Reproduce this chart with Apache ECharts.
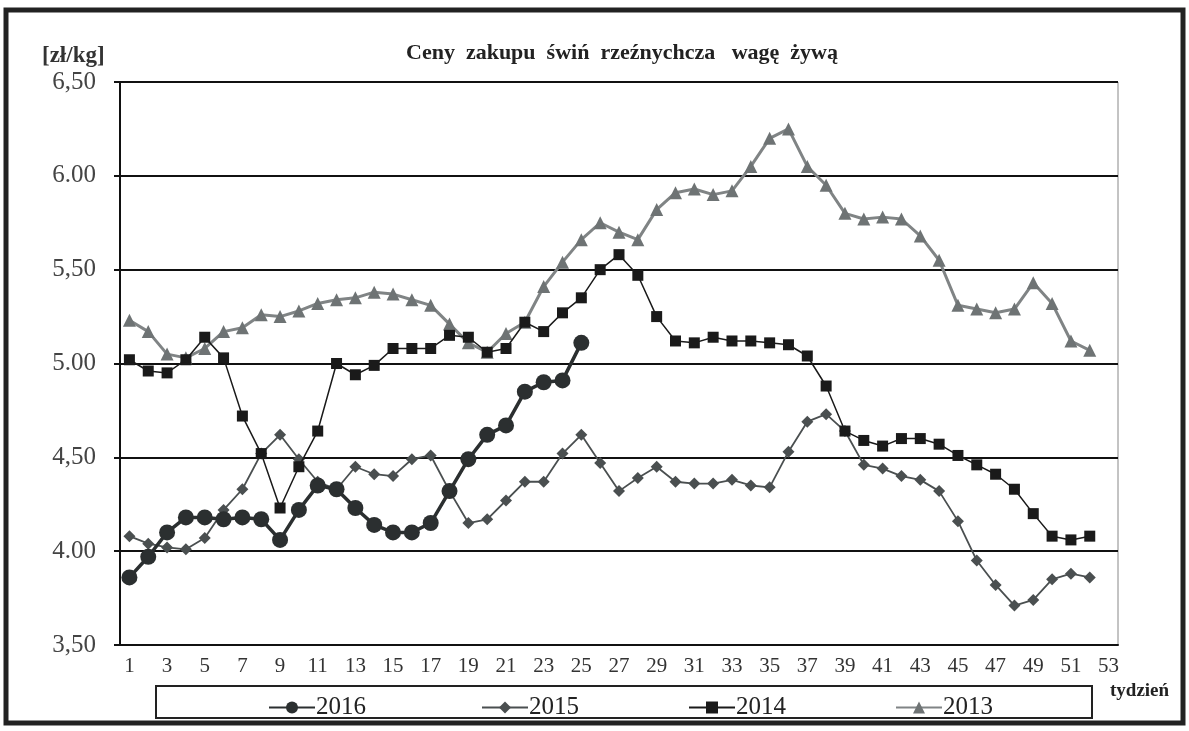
<!DOCTYPE html>
<html>
<head>
<meta charset="utf-8">
<script src="https://cdn.jsdelivr.net/npm/echarts/dist/echarts.min.js"></script>
<style>
  html, body { margin: 0; padding: 0; background: #fff; }
  #chart { width: 1189px; height: 731px; }
</style>
</head>
<body>
<div id="chart"></div>
<script>
// weeks 1..53
var weeks = [];
for (var i = 1; i <= 53; i++) weeks.push(String(i));

var yLabels = ['3,50', '4.00', '4,50', '5.00', '5,50', '6.00', '6,50'];

var s2016 = [3.86, 3.97, 4.10, 4.18, 4.18, 4.17, 4.18, 4.17, 4.06, 4.22, 4.35, 4.33, 4.23, 4.14, 4.10,
    4.10, 4.15, 4.32, 4.49, 4.62, 4.67, 4.85, 4.90, 4.91, 5.11];

var s2015 = [4.08, 4.04, 4.02, 4.01, 4.07, 4.22, 4.33, 4.52, 4.62, 4.49, 4.37, 4.33, 4.45, 4.41, 4.40,
    4.49, 4.51, 4.32, 4.15, 4.17, 4.27, 4.37, 4.37, 4.52, 4.62, 4.47, 4.32, 4.39, 4.45, 4.37,
    4.36, 4.36, 4.38, 4.35, 4.34, 4.53, 4.69, 4.73, 4.64, 4.46, 4.44, 4.40, 4.38, 4.32, 4.16,
    3.95, 3.82, 3.71, 3.74, 3.85, 3.88, 3.86];

var s2014 = [5.02, 4.96, 4.95, 5.02, 5.14, 5.03, 4.72, 4.52, 4.23, 4.45, 4.64, 5.00, 4.94, 4.99, 5.08,
    5.08, 5.08, 5.15, 5.14, 5.06, 5.08, 5.22, 5.17, 5.27, 5.35, 5.50, 5.58, 5.47, 5.25, 5.12,
    5.11, 5.14, 5.12, 5.12, 5.11, 5.10, 5.04, 4.88, 4.64, 4.59, 4.56, 4.60, 4.60, 4.57, 4.51,
    4.46, 4.41, 4.33, 4.20, 4.08, 4.06, 4.08];

var s2013 = [5.23, 5.17, 5.05, 5.03, 5.08, 5.17, 5.19, 5.26, 5.25, 5.28, 5.32, 5.34, 5.35, 5.38, 5.37,
    5.34, 5.31, 5.21, 5.11, 5.06, 5.16, 5.22, 5.41, 5.54, 5.66, 5.75, 5.70, 5.66, 5.82, 5.91,
    5.93, 5.90, 5.92, 6.05, 6.20, 6.25, 6.05, 5.95, 5.80, 5.77, 5.78, 5.77, 5.68, 5.55, 5.31,
    5.29, 5.27, 5.29, 5.43, 5.32, 5.12, 5.07];

var serif = '"Liberation Serif", "DejaVu Serif", serif';

var chart = echarts.init(document.getElementById('chart'));

function legendAt(name, left) {
    return {
        data: [name],
        left: left,
        top: 690,
        itemWidth: 46,
        itemHeight: 15,
        itemGap: 0,
        textStyle: { fontFamily: serif, fontSize: 25, color: '#222', padding: [0, 0, 0, -4] }
    };
}

chart.setOption({
    animation: false,
    backgroundColor: '#fff',
    title: {
        text: 'Ceny  zakupu  świń  rzeźnychcza   wagę  żywą',
        left: 617,
        textAlign: 'center',
        top: 37,
        textStyle: { fontFamily: serif, fontSize: 22, fontWeight: 'bold', color: '#222' }
    },
    grid: { left: 120, right: 71, top: 82, bottom: 86 },
    legend: [
        legendAt('2016', 263),
        legendAt('2015', 476),
        legendAt('2014', 683),
        legendAt('2013', 890)
    ],
    xAxis: {
        type: 'category',
        data: weeks,
        boundaryGap: true,
        axisLine: { lineStyle: { color: '#111', width: 2 } },
        axisTick: { interval: 0, length: 6, lineStyle: { color: '#111', width: 2 } },
        axisLabel: { interval: 1, fontFamily: serif, fontSize: 21, color: '#333', margin: 11 },
        splitLine: { show: false }
    },
    yAxis: {
        type: 'value',
        min: 3.5,
        max: 6.5,
        interval: 0.5,
        axisLine: { show: true, lineStyle: { color: '#111', width: 2 } },
        axisTick: { show: true, length: 6, lineStyle: { color: '#111', width: 2 } },
        axisLabel: {
            fontFamily: serif, fontSize: 25, color: '#444', margin: 24,
            formatter: function (v) {
                var idx = Math.round((v - 3.5) / 0.5);
                return yLabels[idx];
            }
        },
        splitLine: { lineStyle: { color: '#111', width: 2 } }
    },
    series: [
        {
            name: '2016',
            type: 'line',
            data: s2016,
            symbol: 'circle',
            symbolSize: 16,
            showAllSymbol: true,
            z: 5,
            lineStyle: { color: '#2b2f30', width: 3.5 },
            itemStyle: { color: '#2b2f30' }
        },
        {
            name: '2015',
            type: 'line',
            data: s2015,
            symbol: 'diamond',
            symbolSize: 12,
            showAllSymbol: true,
            z: 3,
            lineStyle: { color: '#4a4f50', width: 1.8 },
            itemStyle: { color: '#4a4f50' }
        },
        {
            name: '2014',
            type: 'line',
            data: s2014,
            symbol: 'rect',
            symbolSize: 11,
            showAllSymbol: true,
            z: 4,
            lineStyle: { color: '#1a1a1a', width: 1.5 },
            itemStyle: { color: '#1a1a1a' }
        },
        {
            name: '2013',
            type: 'line',
            data: s2013,
            symbol: 'triangle',
            symbolSize: 13,
            showAllSymbol: true,
            z: 2,
            lineStyle: { color: '#808485', width: 3 },
            itemStyle: { color: '#6e7374' }
        }
    ],
    graphic: [
        // outer frame
        { type: 'rect', shape: { x: 6, y: 10, width: 1177, height: 713 }, style: { fill: null, stroke: '#222', lineWidth: 5 }, silent: true },
        // plot right border
        { type: 'line', shape: { x1: 1118, y1: 82, x2: 1118, y2: 645 }, style: { stroke: '#888', lineWidth: 1 }, silent: true },
        // legend box
        { type: 'rect', shape: { x: 156, y: 686, width: 936, height: 32 }, style: { fill: null, stroke: '#222', lineWidth: 2 }, silent: true },
        { type: 'text', left: 42, top: 45, style: { text: '[zł/kg]', fontFamily: serif, fontSize: 23, fontWeight: 'bold', fill: '#333' } },
        { type: 'text', left: 1110, top: 682, style: { text: 'tydzień', fontFamily: serif, fontSize: 19, fontWeight: 'bold', fill: '#222' } }
    ]
});
</script>
</body>
</html>
